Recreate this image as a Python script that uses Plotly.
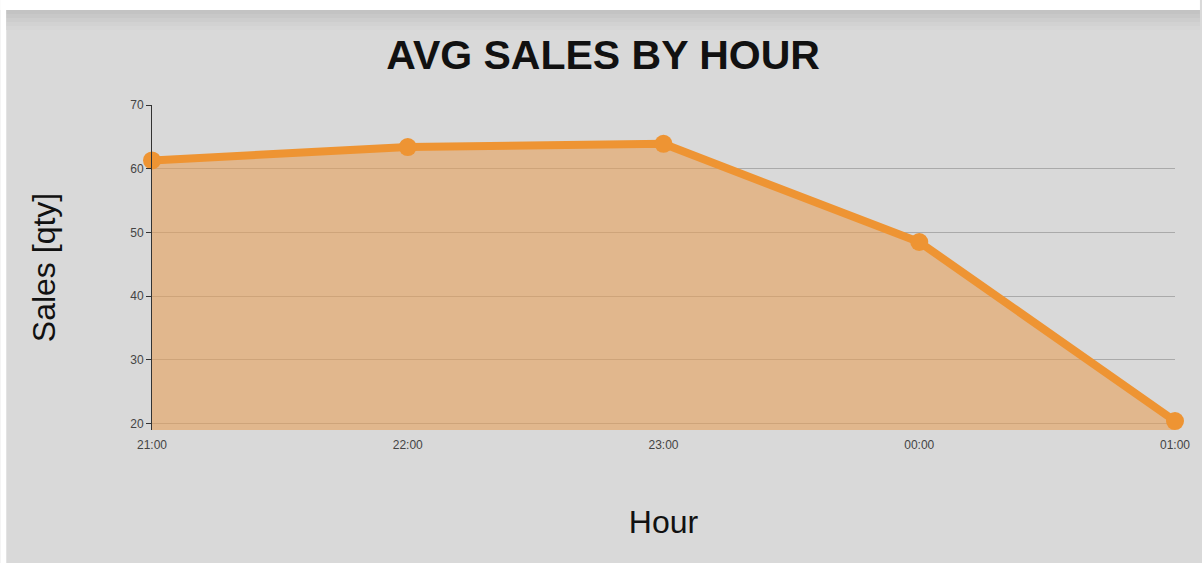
import plotly.graph_objects as go

hours = ["21:00", "22:00", "23:00", "00:00", "01:00"]
sales = [61.3, 63.4, 63.9, 48.5, 20.4]
y_ticks = [20, 30, 40, 50, 60, 70]

W, H = 1202, 563
L, R, T, B = 152, 1177, 105, 430

def px(x):
    return (x - L) / (R - L)

def py(y):
    return (B - y) / (B - T)

fig = go.Figure()
fig.add_trace(go.Scatter(
    x=hours, y=sales, mode="lines+markers",
    fill="tozeroy", fillcolor="rgba(230,160,90,0.6)",
    line=dict(color="#ee9433", width=8),
    marker=dict(color="#ee9433", size=18),
    cliponaxis=False, showlegend=False,
))

shapes = [
    dict(type="rect", xref="paper", yref="paper", x0=px(0), x1=px(W), y0=py(10), y1=py(0),
         fillcolor="white", line_width=0, layer="below"),
    dict(type="rect", xref="paper", yref="paper", x0=px(0), x1=px(6), y0=py(H), y1=py(0),
         fillcolor="white", line_width=0, layer="below"),
]
grad = [(10, 14, "#c3c3c3"), (14, 18, "#c8c8c8"), (18, 22, "#cdcdcd"), (22, 26, "#d2d2d2"), (26, 30, "#d6d6d6")]
for a, b, c in grad:
    shapes.append(dict(type="rect", xref="paper", yref="paper", x0=px(6), x1=px(W), y0=py(b), y1=py(a),
                       fillcolor=c, line_width=0, layer="below"))

fig.update_layout(
    width=W, height=H,
    margin=dict(l=L, r=W - R, t=T, b=H - B),
    paper_bgcolor="#d9d9d9", plot_bgcolor="rgba(0,0,0,0)",
    font=dict(family="Liberation Sans, Arial, sans-serif", color="#222"),
    title=dict(text="<b>AVG SALES BY HOUR</b>", x=px(604), xref="paper", xanchor="center",
               y=1 - 55 / H, yanchor="middle", font=dict(size=41, color="#111")),
    shapes=shapes,
    xaxis=dict(
        type="category", range=[0, 4], showgrid=False, zeroline=False,
        showline=False, ticks="outside", ticklen=4, tickcolor="rgba(0,0,0,0)",
        tickfont=dict(size=12, color="#444"),
        title=dict(text="Hour", font=dict(size=32, color="#111"), standoff=59),
    ),
    yaxis=dict(
        range=[19, 70], tickvals=y_ticks, showgrid=True, gridcolor="#aaaaaa", gridwidth=1,
        zeroline=False, showline=True, linecolor="#333", linewidth=1,
        ticks="outside", ticklen=5, tickcolor="#333",
        tickfont=dict(size=12, color="#444"),
        title=dict(text="Sales [qty]", font=dict(size=32, color="#111"), standoff=65),
    ),
)

fig.write_html("out.html", config={"displayModeBar": False},
               post_script="document.body.style.margin='0';")
